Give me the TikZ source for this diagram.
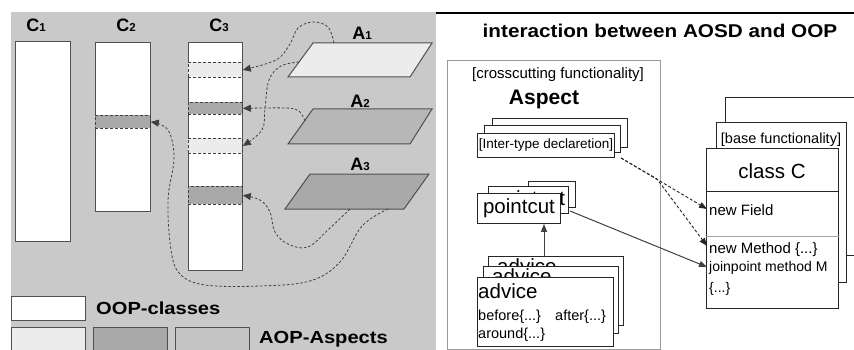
\documentclass[tikz,border=0pt]{standalone}
\usepackage{fontspec}
\usepackage{graphicx}
\setmainfont{Liberation Sans}
\usetikzlibrary{arrows.meta}
\definecolor{panelbg}{HTML}{C9C9C9}
\definecolor{lightband}{HTML}{ECECEC}
\definecolor{darkband}{HTML}{A9A9A9}
\definecolor{midfill}{HTML}{B7B7B7}
\definecolor{legmid}{HTML}{C4C4C4}
\definecolor{edgecol}{HTML}{505050}
\definecolor{dashcol}{HTML}{404040}
\definecolor{boxline}{HTML}{9A9A9A}
\newcommand{\fsz}[1]{\fontsize{#1}{#1}\selectfont}
\newcommand{\sublabel}[2]{{\fsz{18}\bfseries #1}{\fsz{11.5}\bfseries #2}}
\newcommand{\legtext}[1]{\scalebox{1.15}[1]{\fsz{17.5}\bfseries #1}}
\begin{document}
\begin{tikzpicture}[x=1pt,y=-1pt,
  colbox/.style={draw=edgecol, fill=white, line width=0.9pt, inner sep=0pt, anchor=north west},
  bandbox/.style={draw=dashcol, dash pattern=on 3pt off 2pt, line width=0.8pt, inner sep=0pt, anchor=north west},
  paral/.style={draw=edgecol, line width=1pt},
  legbox/.style={draw=edgecol, line width=1pt, inner sep=0pt, anchor=north west, minimum width=74pt},
  flow/.style={draw=dashcol, dash pattern=on 2.5pt off 2pt, line width=0.8pt, -{Triangle[length=8pt,width=7pt]}},
  stk/.style={draw=black!85, fill=white, line width=0.9pt, inner sep=0pt, anchor=north west},
  dflow/.style={draw=black!85, dash pattern=on 3pt off 2pt, line width=0.9pt, -{Triangle[length=8pt,width=6pt]}},
  sflow/.style={draw=black!75, line width=1pt, -{Triangle[length=8pt,width=6pt]}},
  txt/.style={inner sep=0pt}
]
\useasboundingbox (0,0) rectangle (854,350);
\fill[white] (0,0) rectangle (854,350);
\fill[panelbg] (11,12) rectangle (436,350);

% ---------- left panel: classes ----------
\node[colbox, minimum width=55pt, minimum height=200pt] (c1) at (15,41) {};
\node[colbox, minimum width=55pt, minimum height=169pt] (c2) at (95,42) {};
\node[colbox, minimum width=54pt, minimum height=228pt] (c3) at (188,42) {};
\node[bandbox, fill=darkband, minimum width=55pt, minimum height=13pt] (c2b) at (95,115) {};
\node[bandbox, fill=lightband, minimum width=54pt, minimum height=15pt] (c3a) at (188,62) {};
\node[bandbox, fill=darkband, minimum width=54pt, minimum height=12pt] (c3b) at (188,102) {};
\node[bandbox, fill=lightband, minimum width=54pt, minimum height=15pt] (c3c) at (188,138) {};
\node[bandbox, fill=darkband, minimum width=54pt, minimum height=18pt] (c3d) at (188,186) {};

\node[txt] (lc1) at (36,25) {\sublabel{C}{1}};
\node[txt] (lc2) at (126,25) {\sublabel{C}{2}};
\node[txt] (lc3) at (219,25) {\sublabel{C}{3}};

% ---------- aspects ----------
\draw[paral, fill=lightband] (313,43) -- (432,43) -- (410,77) -- (288,77) -- cycle;
\draw[paral, fill=midfill] (313,109) -- (432,109) -- (410,144) -- (288,144) -- cycle;
\draw[paral, fill=darkband] (310,174) -- (429,174) -- (404,209) -- (285,209) -- cycle;
\node[txt] (la1) at (362,33) {\sublabel{A}{1}};
\node[txt] (la2) at (360,101) {\sublabel{A}{2}};
\node[txt] (la3) at (360,164) {\sublabel{A}{3}};

\coordinate (a1top) at (334,43);
\coordinate (a1left) at (299,62);
\coordinate (a2left) at (305,121);
\coordinate (a3b1) at (350,209);
\coordinate (a3b2) at (388,209);

\draw[flow] plot[smooth, tension=0.6] coordinates {(a1top) (328,27) (313,22) (298,28) (290,44) (276,60) (c3a.east)};
\draw[flow] plot[smooth, tension=0.6] coordinates {(a1left) (281,66) (269,80) (265,108) (262,130) (c3c.east)};
\draw[flow] plot[smooth, tension=0.6] coordinates {(a2left) (299,111) (286,108) (c3b.east)};
\draw[flow] plot[smooth, tension=0.6] coordinates {(a3b1) (330,228) (308,247) (288,244) (275,232) (270,212) (260,200) (c3d.east)};
\draw[flow] plot[smooth, tension=0.6] coordinates {(a3b2) (362,226) (340,262) (310,281) (260,286) (205,285) (180,274) (171,250) (168,200) (174,158) (168,130) (c2b.east)};

% ---------- legend ----------
\node[legbox, fill=white, minimum height=24pt] (lg1) at (11,296) {};
\node[legbox, fill=lightband, minimum height=30pt] (lg2) at (11,327) {};
\node[legbox, fill=darkband, minimum height=30pt] (lg3) at (93,327) {};
\node[legbox, fill=legmid, minimum height=30pt] (lg4) at (175,327) {};
\node[txt, anchor=west] (t1) at (96,308) {\legtext{OOP-classes}};
\node[txt, anchor=west] (t2) at (259,339) {\legtext{AOP-Aspects}};

% ---------- right panel ----------
\draw[line width=1.2pt] (436,13) -- (854,13);
\node[txt] (title) at (660,31) {\scalebox{1.12}[1]{\fsz{18.5}\bfseries interaction between AOSD and OOP}};

\node[draw=boxline, line width=0.8pt, minimum width=213pt, minimum height=289pt, anchor=north west, inner sep=0pt] (aspect) at (447,60) {};
\node[txt] (cf) at (558,75) {\fsz{15}[crosscutting functionality]};
\node[txt] (asp) at (544,99) {\fsz{21}\bfseries Aspect};

% inter-type declaration stack
\node[stk, minimum width=135pt, minimum height=29pt] (it3) at (492,118) {};
\node[stk, minimum width=136pt, minimum height=27pt] (it2) at (484,125) {};
\node[stk, minimum width=137pt, minimum height=24pt, font=\fsz{13.5}] (it1) at (477,133) {[Inter-type declaretion]};

% pointcut stack
\node[stk, minimum width=47pt, minimum height=26pt] (pc3) at (528,181) {};
\node[stk, minimum width=80pt, minimum height=27pt] (pc2) at (488,186) {};
\node[txt, anchor=base west, font=\fsz{20.5}] (pc2t) at (493,205) {pointcut};
\node[stk, minimum width=83pt, minimum height=30pt, font=\fsz{20.5}] (pc1) at (477,193) {pointcut};

% advice stack
\node[stk, minimum width=135pt, minimum height=69pt] (ad3) at (488,256) {};
\node[txt, anchor=base west, font=\fsz{20.5}] (ad3t) at (497,273) {advice};
\node[stk, minimum width=135pt, minimum height=67pt] (ad2) at (483,266) {};
\node[txt, anchor=base west, font=\fsz{20.5}] (ad2t) at (492,283) {advice};
\node[stk, minimum width=136pt, minimum height=69pt] (ad1) at (477,277) {};
\node[txt, anchor=base west, font=\fsz{20.5}] (ad1t) at (478,298) {advice};
\node[txt, anchor=base west, font=\fsz{14.5}] (bef) at (478,320) {before\{...\}};
\node[txt, anchor=base west, font=\fsz{14.5}] (aft) at (555,320) {after\{...\}};
\node[txt, anchor=base west, font=\fsz{14.5}] (aro) at (478,338) {around\{...\}};

\draw[sflow] (544,0 |- ad3.north) -- (544,0 |- pc1.south);

% class C stack
\node[stk, minimum width=140pt, minimum height=158pt] (cc3) at (725,97) {};
\node[stk, minimum width=130pt, minimum height=160pt] (cc2) at (716,122) {};
\node[txt, font=\fsz{14.5}] (basef) at (781,140) {[base functionality]};
\node[stk, minimum width=132pt, minimum height=160pt] (cc1) at (706,148) {};
\node[txt, font=\fsz{20.5}] (classc) at (772,171) {class C};
\draw[black!85, line width=0.9pt] (cc1.west |- 0,191) -- (cc1.east |- 0,191);
\draw[black!35, line width=0.9pt] (cc1.west |- 0,236) -- (cc1.east |- 0,236);
\node[txt, anchor=base west, font=\fsz{15}] (nf) at (709,215) {new Field};
\node[txt, anchor=base west, font=\fsz{15}] (nm) at (709,253) {new Method \{...\}};
\node[txt, anchor=base west, font=\fsz{14}] (jp) at (709,271) {joinpoint method M};
\node[txt, anchor=base west, font=\fsz{14}] (jd) at (709,292) {\{...\}};

\coordinate (itout) at (621,158);
\coordinate (split) at (657,179);
\coordinate (pcout) at (570,211);
\coordinate (fieldin) at (707,209);
\coordinate (methin) at (707,246);
\coordinate (jpin) at (707,267);
\draw[dflow] (itout) -- (fieldin);
\draw[dflow] (itout) -- (split) -- (methin);
\draw[sflow] (pcout) -- (jpin);
\end{tikzpicture}
\end{document}
